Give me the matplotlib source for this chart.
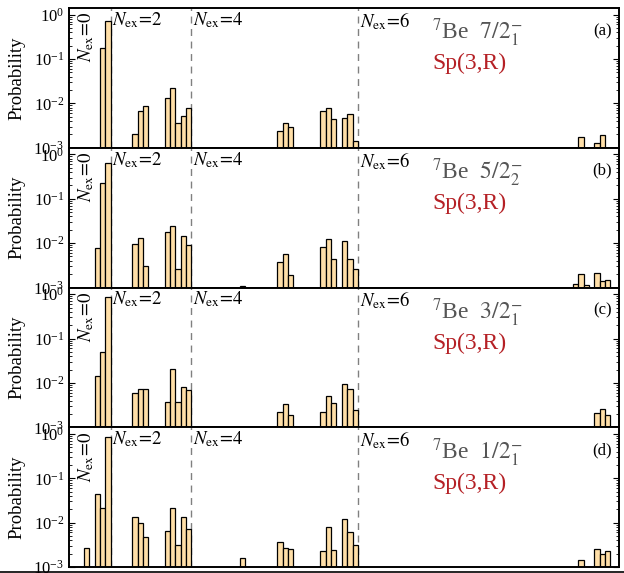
import matplotlib
matplotlib.use("Agg")
import matplotlib.pyplot as plt
from matplotlib.lines import Line2D
import numpy as np

plt.rcParams['font.family'] = ['Liberation Serif', 'DejaVu Serif']
plt.rcParams['mathtext.fontset'] = 'stix'

# Basis-state slots (one bar per slot) and probabilities for each 7Be state
slots_a = [0, 1, 6, 7, 8, 12, 13, 14, 15, 16, 33, 34, 35, 41, 42, 43, 45, 46, 47, 89, 92, 93]
prob_a = [0.18, 0.73, 0.0020, 0.0069, 0.0087, 0.0132, 0.0219, 0.0036, 0.0052, 0.0080,
          0.00243, 0.0036, 0.00295, 0.0068, 0.0078, 0.0044, 0.0048, 0.0057, 0.00144,
          0.00178, 0.00125, 0.0019]

slots_b = [-1, 0, 1, 6, 7, 8, 12, 13, 14, 15, 16, 26, 33, 34, 35, 41, 42, 43, 45, 46, 47,
           88, 89, 90, 92, 93, 94]
prob_b = [0.0078, 0.227, 0.65, 0.0098, 0.0128, 0.00305, 0.0181, 0.0247, 0.00257, 0.0142,
          0.0093, 0.00107, 0.00376, 0.0056, 0.00194, 0.0080, 0.0123, 0.0044, 0.0109, 0.0043,
          0.0026, 0.00121, 0.0020, 0.00115, 0.0021, 0.00137, 0.0015]

slots_c = [-1, 0, 1, 6, 7, 8, 12, 13, 14, 15, 16, 33, 34, 35, 41, 42, 43, 45, 46, 47,
           92, 93, 94]
prob_c = [0.0144, 0.0507, 0.85, 0.0060, 0.0072, 0.0072, 0.0038, 0.0202, 0.0038, 0.0080,
          0.0069, 0.00224, 0.0033, 0.00185, 0.00224, 0.0051, 0.00345, 0.0092, 0.0071,
          0.00243, 0.00205, 0.0026, 0.00185]

slots_d = [-3, -1, 0, 1, 6, 7, 8, 12, 13, 14, 15, 16, 26, 33, 34, 35, 41, 42, 43, 45, 46,
           47, 89, 92, 93, 94]
prob_d = [0.0027, 0.0449, 0.0212, 0.83, 0.0133, 0.0100, 0.0047, 0.0065, 0.0212, 0.0032,
          0.0133, 0.0071, 0.00158, 0.0036, 0.0027, 0.0025, 0.0023, 0.0079, 0.0024, 0.0121,
          0.0061, 0.0031, 0.00144, 0.0025, 0.00198, 0.00224]

state_labels = [r"$^{7}$Be  $7/2^{-}_{1}$", r"$^{7}$Be  $5/2^{-}_{2}$",
                r"$^{7}$Be  $3/2^{-}_{1}$", r"$^{7}$Be  $1/2^{-}_{1}$"]
panel_tags = ["(a)", "(b)", "(c)", "(d)"]

# N_ex shell boundaries (between slots) and their labels
shell_bounds = [1.5, 16.5, 47.5]
shell_names = [r"$N_{\rm ex}\!=\!2$", r"$N_{\rm ex}\!=\!4$", r"$N_{\rm ex}\!=\!6$"]

panels = [(slots_a, prob_a), (slots_b, prob_b), (slots_c, prob_c), (slots_d, prob_d)]

W, H = 624, 573
fig = plt.figure(figsize=(W / 100, H / 100), dpi=100)

left, right = 69 / W, 619 / W
top_px, bot_px = 8, 567
ph = (bot_px - top_px) / 4

bar_color = '#FFDFA8'
ymin, ymax = 1e-3, 10 ** 0.15
base = 1e-5

for i, (xs, ps) in enumerate(panels):
    y0 = 1 - (top_px + (i + 1) * ph) / H
    ax = fig.add_axes([left, y0, right - left, ph / H])
    xs = np.asarray(xs, dtype=float)
    ps = np.asarray(ps, dtype=float)
    ax.bar(xs, ps - base, bottom=base, width=1.0, color=bar_color,
           edgecolor='black', linewidth=0.9, zorder=2)
    ax.set_yscale('log')
    ax.set_ylim(ymin, ymax)
    ax.set_xlim(-6.28, 96.1)

    for xb in shell_bounds:
        ax.axvline(xb, color='#808080', lw=1.0, ls=(0, (5, 4)), zorder=1)
    for xb, nm in zip(shell_bounds, shell_names):
        ax.text(xb + 0.3, 0.985, nm, transform=ax.get_xaxis_transform(),
                ha='left', va='top', fontsize=13.5)
    ax.text(-3.1, 0.975, r"$N_{\rm ex}\!=\!0$", transform=ax.get_xaxis_transform(),
            ha='center', va='top', rotation=90, fontsize=13.5)

    ax.text(61.3, 0.82, state_labels[i], transform=ax.get_xaxis_transform(),
            ha='left', va='center', fontsize=17, color='#555555')
    ax.text(61.3, 0.60, "Sp(3,R)", transform=ax.get_xaxis_transform(),
            ha='left', va='center', fontsize=17, color='#B52025')
    ax.text(94.7, 0.835, panel_tags[i], transform=ax.get_xaxis_transform(),
            ha='right', va='center', fontsize=12)

    ax.set_ylabel("Probability", fontsize=13.5, labelpad=6)
    ax.set_yticks([1e-3, 1e-2, 1e-1, 1e0])
    ax.tick_params(axis='y', which='both', direction='in', left=True, right=True,
                   labelsize=12)
    ax.tick_params(axis='y', which='major', length=4, width=0.8)
    ax.tick_params(axis='y', which='minor', length=2, width=0.6)
    ax.tick_params(axis='x', which='both', bottom=False, top=False, labelbottom=False)
    for s in ax.spines.values():
        s.set_linewidth(1.4)

ysep = 1 - 571.5 / H
fig.add_artist(Line2D([0, 1], [ysep, ysep], transform=fig.transFigure,
                      color='black', lw=1.2))

fig.savefig("out.png", dpi=100)
